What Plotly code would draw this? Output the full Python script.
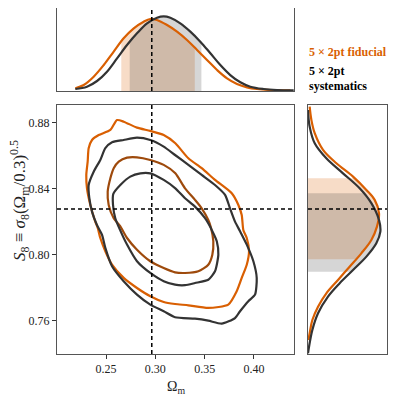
import numpy as np
import plotly.graph_objects as go

# ---- data ----
om_true = 0.2964
s8_true = 0.8277

# 2D contours (Omega_m, S8)
fid95_om = [0.2612, 0.2679, 0.2814, 0.2949, 0.3085, 0.3203, 0.3335, 0.3470, 0.3605, 0.3775, 0.3842, 0.3876, 0.3892,
            0.3927, 0.3950, 0.3927, 0.3876, 0.3825, 0.3740, 0.3537, 0.3335, 0.3200, 0.3085, 0.2949, 0.2814, 0.2679,
            0.2561, 0.2493, 0.2442, 0.2416, 0.2391, 0.2341, 0.2307, 0.2300, 0.2314, 0.2324, 0.2358, 0.2426, 0.2544]
fid95_s8 = [0.8816, 0.8806, 0.8770, 0.8750, 0.8725, 0.8675, 0.8584, 0.8524, 0.8453, 0.8372, 0.8301, 0.8241, 0.8150,
            0.8101, 0.8021, 0.7939, 0.7859, 0.7778, 0.7697, 0.7677, 0.7693, 0.7701, 0.7713, 0.7748, 0.7798, 0.7859,
            0.7939, 0.8021, 0.8101, 0.8162, 0.8200, 0.8301, 0.8402, 0.8483, 0.8564, 0.8645, 0.8695, 0.8725, 0.8756]

sys95_om = [0.2814, 0.2949, 0.3085, 0.3200, 0.3335, 0.3470, 0.3605, 0.3707, 0.3757, 0.3808, 0.3859, 0.3927, 0.3994,
            0.4028, 0.4011, 0.3943, 0.3859, 0.3808, 0.3673, 0.3537, 0.3402, 0.3200, 0.3085, 0.2949, 0.2814, 0.2679,
            0.2561, 0.2493, 0.2459, 0.2408, 0.2358, 0.2331, 0.2324, 0.2375, 0.2442, 0.2493, 0.2561, 0.2679]
sys95_s8 = [0.8709, 0.8695, 0.8655, 0.8604, 0.8544, 0.8483, 0.8422, 0.8362, 0.8281, 0.8200, 0.8142, 0.8061, 0.7960,
            0.7859, 0.7758, 0.7718, 0.7657, 0.7616, 0.7582, 0.7600, 0.7612, 0.7621, 0.7657, 0.7697, 0.7758, 0.7839,
            0.7930, 0.8041, 0.8121, 0.8180, 0.8261, 0.8342, 0.8422, 0.8503, 0.8574, 0.8645, 0.8681, 0.8695]

fid68_om = [0.2814, 0.2949, 0.3085, 0.3203, 0.3301, 0.3402, 0.3470, 0.3537, 0.3565, 0.3588, 0.3578, 0.3537, 0.3436,
            0.3301, 0.3200, 0.3085, 0.2949, 0.2814, 0.2713, 0.2642, 0.2578, 0.2527, 0.2517, 0.2544, 0.2578, 0.2629,
            0.2713]
fid68_s8 = [0.8590, 0.8574, 0.8544, 0.8493, 0.8402, 0.8332, 0.8281, 0.8210, 0.8162, 0.8081, 0.8000, 0.7939, 0.7899,
            0.7889, 0.7893, 0.7919, 0.7960, 0.8030, 0.8101, 0.8174, 0.8221, 0.8301, 0.8382, 0.8463, 0.8524, 0.8564,
            0.8588]

sys68_om = [0.2949, 0.3085, 0.3203, 0.3301, 0.3402, 0.3504, 0.3572, 0.3623, 0.3639, 0.3605, 0.3537, 0.3402, 0.3301,
            0.3200, 0.3085, 0.2949, 0.2814, 0.2713, 0.2642, 0.2594, 0.2571, 0.2574, 0.2645, 0.2746, 0.2848]
sys68_s8 = [0.8493, 0.8453, 0.8402, 0.8342, 0.8291, 0.8221, 0.8150, 0.8081, 0.8000, 0.7899, 0.7848, 0.7828, 0.7815,
            0.7818, 0.7839, 0.7889, 0.7960, 0.8061, 0.8150, 0.8221, 0.8301, 0.8368, 0.8422, 0.8473, 0.8493]

# 1D marginal of Omega_m (normalised height)
om_x_fid = [0.2189, 0.2274, 0.2375, 0.2477, 0.2578, 0.2679, 0.2781, 0.2882, 0.2949, 0.3017, 0.3119, 0.3220, 0.3321,
            0.3423, 0.3524, 0.3626, 0.3727, 0.3828, 0.3930, 0.4031, 0.4166, 0.4369]
om_p_fid = [0.032, 0.073, 0.173, 0.314, 0.476, 0.637, 0.758, 0.838, 0.871, 0.859, 0.798, 0.718, 0.617,
            0.496, 0.375, 0.254, 0.153, 0.085, 0.044, 0.024, 0.012, 0.008]
om_x_sys = [0.2189, 0.2307, 0.2409, 0.2510, 0.2612, 0.2713, 0.2814, 0.2916, 0.3017, 0.3085, 0.3152, 0.3253, 0.3355,
            0.3456, 0.3558, 0.3659, 0.3760, 0.3862, 0.3963, 0.4099, 0.4234, 0.4403]
om_p_sys = [0.024, 0.052, 0.121, 0.234, 0.395, 0.556, 0.697, 0.818, 0.886, 0.903, 0.886, 0.818, 0.718,
            0.597, 0.456, 0.314, 0.193, 0.105, 0.052, 0.024, 0.012, 0.008]

# 1D marginal of S8
s8_y_fid = [0.8897, 0.8816, 0.8736, 0.8635, 0.8554, 0.8473, 0.8392, 0.8332, 0.8251, 0.8170, 0.8089, 0.8008, 0.7927,
            0.7847, 0.7766, 0.7685, 0.7604, 0.7524, 0.7483]
s8_p_fid = [0.021, 0.043, 0.085, 0.190, 0.359, 0.570, 0.739, 0.844, 0.899, 0.873, 0.802, 0.675, 0.527,
            0.380, 0.232, 0.127, 0.055, 0.021, 0.005]
s8_y_sys = [0.8877, 0.8776, 0.8675, 0.8584, 0.8493, 0.8402, 0.8312, 0.8210, 0.8139, 0.8069, 0.7988, 0.7907, 0.7827,
            0.7746, 0.7645, 0.7544, 0.7442, 0.7402]
s8_p_sys = [0.0, 0.021, 0.085, 0.232, 0.443, 0.654, 0.802, 0.899, 0.916, 0.865, 0.739, 0.570, 0.401,
            0.253, 0.127, 0.055, 0.013, 0.0]

# 68% intervals shaded in the marginals
om_band_fid = [0.2655, 0.3400]
om_band_sys = [0.2740, 0.3467]
s8_band_fid = [0.7972, 0.8463]
s8_band_sys = [0.7897, 0.8372]

ORANGE = '#d95f02'
ORANGE_IN = '#9e4a0c'
DARK = '#333333'
FONT = 'Liberation Serif'

W, H = 407, 396
PAGE_OFF = 8  # the page body margin shifts the plot by 8px


def px(x):
    return (x - PAGE_OFF) / W


def py(y):
    return 1 - (y - PAGE_OFF) / H


def band_poly(xs, ys, lo, hi):
    """Segment of a marginal curve between lo and hi, for shading under it."""
    order = np.argsort(xs)
    xs = np.asarray(xs)[order]
    ys = np.asarray(ys)[order]
    keep = (xs > lo) & (xs < hi)
    bx = np.concatenate([[lo], xs[keep], [hi]])
    by = np.concatenate([[np.interp(lo, xs, ys)], ys[keep], [np.interp(hi, xs, ys)]])
    return bx, by


def closed(a):
    return list(a) + [a[0]]


fig = go.Figure()

# ---- top marginal: Omega_m ----
for xs, ys, band, col in [(om_x_fid, om_p_fid, om_band_fid, 'rgba(217,95,2,0.22)'),
                          (om_x_sys, om_p_sys, om_band_sys, 'rgba(51,51,51,0.2)')]:
    bx, by = band_poly(xs, ys, *band)
    fig.add_trace(go.Scatter(x=bx, y=by, mode='lines', line=dict(width=0), fill='tozeroy',
                             fillcolor=col, xaxis='x2', yaxis='y2', hoverinfo='skip', showlegend=False))
for xs, ys, col in [(om_x_fid, om_p_fid, ORANGE), (om_x_sys, om_p_sys, DARK)]:
    fig.add_trace(go.Scatter(x=xs, y=ys, mode='lines', line=dict(color=col, width=2.2, shape='spline'),
                             xaxis='x2', yaxis='y2', showlegend=False))

# ---- right marginal: S8 ----
for ys, xs, band, col in [(s8_y_fid, s8_p_fid, s8_band_fid, 'rgba(217,95,2,0.22)'),
                          (s8_y_sys, s8_p_sys, s8_band_sys, 'rgba(51,51,51,0.2)')]:
    by, bx = band_poly(ys, xs, *band)
    fig.add_trace(go.Scatter(x=bx, y=by, mode='lines', line=dict(width=0), fill='tozerox',
                             fillcolor=col, xaxis='x3', yaxis='y3', hoverinfo='skip', showlegend=False))
for ys, xs, col in [(s8_y_fid, s8_p_fid, ORANGE), (s8_y_sys, s8_p_sys, DARK)]:
    fig.add_trace(go.Scatter(x=xs, y=ys, mode='lines', line=dict(color=col, width=2.2, shape='spline'),
                             xaxis='x3', yaxis='y3', showlegend=False))

# ---- main panel contours ----
for om, s8, col in [(fid95_om, fid95_s8, ORANGE), (fid68_om, fid68_s8, ORANGE_IN),
                    (sys95_om, sys95_s8, DARK), (sys68_om, sys68_s8, DARK)]:
    fig.add_trace(go.Scatter(x=closed(om), y=closed(s8), mode='lines',
                             line=dict(color=col, width=2.2, shape='spline', smoothing=0.6),
                             xaxis='x', yaxis='y', showlegend=False))

# ---- true-value dashed lines ----
dash = dict(color='black', width=1.5, dash='4px,3px')
fig.add_shape(type='line', xref='x', yref='y domain', x0=om_true, x1=om_true, y0=0, y1=1, line=dash)
fig.add_shape(type='line', xref='x2', yref='y2 domain', x0=om_true, x1=om_true, y0=0, y1=1, line=dash)
fig.add_shape(type='line', xref='x domain', yref='y', x0=0, x1=1, y0=s8_true, y1=s8_true, line=dash)
fig.add_shape(type='line', xref='x3 domain', yref='y3', x0=0, x1=1, y0=s8_true, y1=s8_true, line=dash)

frame = dict(showline=True, linecolor='#555555', linewidth=1, mirror=True, showgrid=False, zeroline=False,
             automargin=False)
x_dom = [px(57), px(294)]
y_dom = [py(354), py(105)]

fig.update_layout(
    width=W, height=H,
    margin=dict(l=0, r=0, t=0, b=0, autoexpand=False),
    paper_bgcolor='white', plot_bgcolor='white',
    font=dict(family=FONT, size=12, color='#222222'),
    showlegend=False,
    xaxis=dict(domain=x_dom, range=[0.2003, 0.4406], anchor='y',
               tickvals=[0.25, 0.30, 0.35, 0.40], tickformat='.2f',
               ticks='outside', ticklen=4, tickcolor='#333333',
               tickfont=dict(size=12, family=FONT), **frame),
    yaxis=dict(domain=y_dom, range=[0.7398, 0.8907], anchor='x',
               tickvals=[0.76, 0.80, 0.84, 0.88], tickformat='.2f',
               ticks='outside', ticklen=4, tickcolor='#333333',
               tickfont=dict(size=12, family=FONT), **frame),
    xaxis2=dict(domain=x_dom, matches='x', anchor='y2', showticklabels=False, ticks='', **frame),
    yaxis2=dict(domain=[py(91), py(8.3)], range=[0, 1], anchor='x2',
                showticklabels=False, ticks='', **frame),
    xaxis3=dict(domain=[px(308), px(387)], range=[0, 1], anchor='y3',
                showticklabels=False, ticks='', **frame),
    yaxis3=dict(domain=y_dom, matches='y', anchor='x3', showticklabels=False, ticks='', **frame),
)

# axis labels
fig.add_annotation(text='Ω<sub>m</sub>', xref='paper', yref='paper', x=px(175.5), y=py(387),
                   xanchor='center', yanchor='middle',
                   showarrow=False, font=dict(size=14, family=FONT, color='#222222'))
fig.add_annotation(text='<i>S</i><sub>8</sub> ≡ <i>σ</i><sub>8</sub>(Ω<sub>m</sub>/0.3)<sup>0.5</sup>',
                   xref='paper', yref='paper', x=px(19), y=py(201), textangle=-90,
                   xanchor='center', yanchor='middle',
                   showarrow=False, font=dict(size=17, family=FONT, color='#222222'))

# legend text
legend_lines = [('5 × 2pt fiducial', ORANGE, 51.7), ('5 × 2pt', 'black', 70.5), ('systematics', 'black', 86.5)]
for txt, col, ypx in legend_lines:
    fig.add_annotation(text='<b>' + txt + '</b>', xref='paper', yref='paper', x=px(307), y=py(ypx),
                       xanchor='left', yanchor='middle', showarrow=False,
                       font=dict(size=12, family=FONT, color=col))

fig.write_html("out.html")
